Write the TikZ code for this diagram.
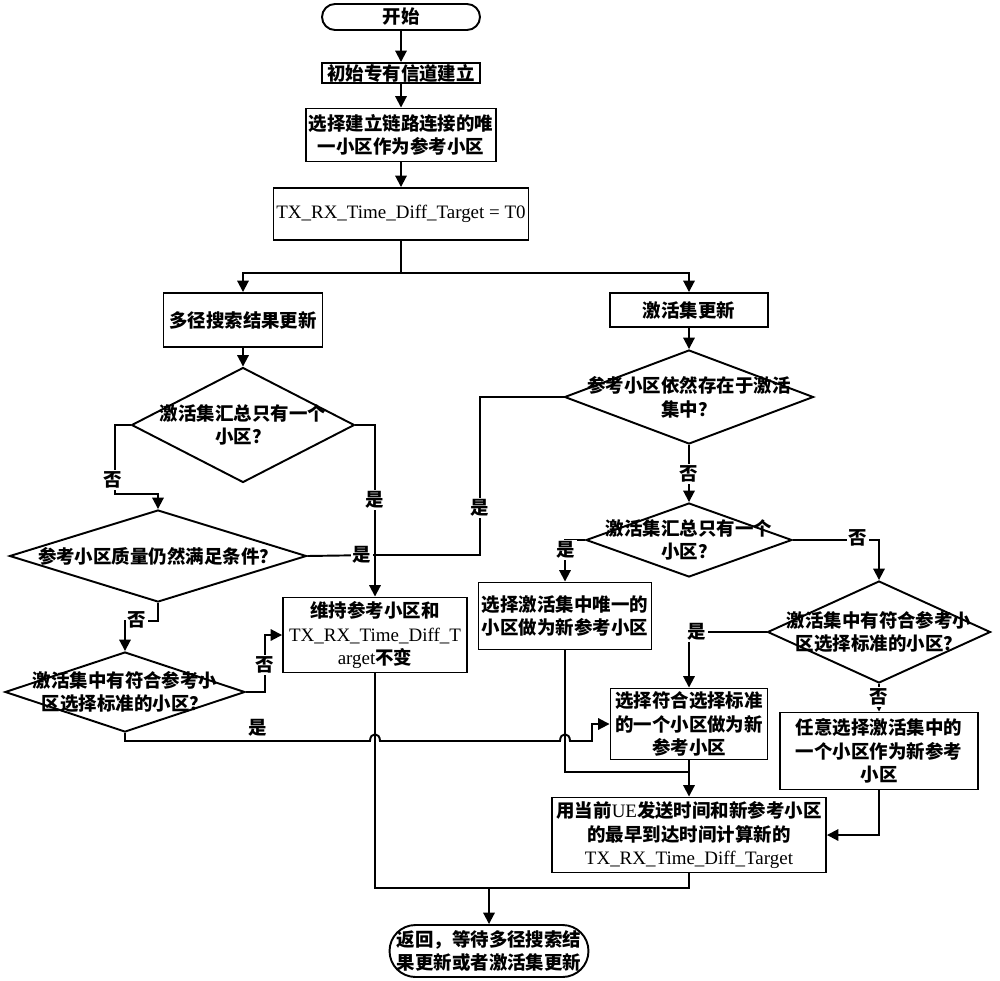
\documentclass[tikz,border=0pt]{standalone}
\usepackage{fontspec}
\setmainfont{Liberation Serif}
\newfontfamily\cjkfont{Noto Sans CJK SC}
\newcommand{\lat}[1]{{\rmfamily\mdseries\fontsize{10.8}{13.5}\selectfont #1}}
\usetikzlibrary{arrows.meta}
\usetikzlibrary{shapes}

\begin{document}
\begin{tikzpicture}[x = 0.02cm, y = -0.02cm, line width = 1.1pt, font = \cjkfont\bfseries\fontsize{10.5}{13.5}\selectfont]
	\tikzstyle{termStyle} = [draw, align = center, inner sep = 0pt]
	\tikzstyle{boxStyle} = [draw, shape = rectangle, align = center, inner sep = 0pt]
	\tikzstyle{decisionStyle} = [draw, shape = diamond, inner sep = 0pt]
	\tikzstyle{answerStyle} = [fill = white, inner sep = 1pt]
	\tikzstyle{flowStyle} = [-{Triangle[length = 6.5pt, width = 6.5pt]}]
	\useasboundingbox (0,0) rectangle (1000,980);
	% main column
	\node[termStyle, rounded corners = 0.26cm, minimum width = 3.16cm, minimum height = 0.52cm] (start) at (401,17) {开始};
	\node[boxStyle, minimum width = 3.16cm, minimum height = 0.40cm] (init) at (401,73) {初始专有信道建立};
	\node[boxStyle, minimum width = 3.80cm, minimum height = 1.06cm] (pick) at (401,135) {选择建立链路连接的唯\\一小区作为参考小区};
	\node[boxStyle, minimum width = 5.10cm, minimum height = 1.04cm] (tzero) at (401,214) {\lat{TX\_RX\_Time\_Diff\_Target = T0}};
	% left branch
	\node[boxStyle, minimum width = 3.18cm, minimum height = 1.08cm] (search) at (243,320) {多径搜索结果更新};
	\node[decisionStyle, minimum width = 4.46cm, minimum height = 2.30cm, label = {[align = center]center:激活集汇总只有一个\\小区？}] (onlyL) at (243,425) {};
	\node[decisionStyle, minimum width = 5.94cm, minimum height = 1.84cm, label = {[align = center]center:参考小区质量仍然满足条件？}] (quality) at (158,556) {};
	\node[decisionStyle, minimum width = 4.80cm, minimum height = 1.60cm, label = {[align = center]center:激活集中有符合参考小\\区选择标准的小区？}] (match) at (125,692) {};
	\node[boxStyle, minimum width = 3.68cm, minimum height = 1.50cm] (keep) at (375,635) {维持参考小区和\\\lat{TX\_RX\_Time\_Diff\_T}\\\lat{arget}不变};
	% right branch
	\node[boxStyle, minimum width = 3.16cm, minimum height = 0.68cm] (update) at (689,310) {激活集更新};
	\node[decisionStyle, minimum width = 4.98cm, minimum height = 1.88cm, label = {[align = center]center:参考小区依然存在于激活\\集中？}] (stillIn) at (689,397) {};
	\node[decisionStyle, minimum width = 4.12cm, minimum height = 1.48cm, label = {[align = center]center:激活集汇总只有一个\\小区？}] (onlyR) at (689,540) {};
	\node[boxStyle, minimum width = 3.46cm, minimum height = 1.34cm] (unique) at (565,616) {选择激活集中唯一的\\小区做为新参考小区};
	\node[decisionStyle, minimum width = 4.46cm, minimum height = 2.04cm, label = {[align = center]center:激活集中有符合参考小\\区选择标准的小区？}] (matchR) at (879,632) {};
	\node[boxStyle, minimum width = 3.14cm, minimum height = 1.42cm] (choose) at (689,724) {选择符合选择标准\\的一个小区做为新\\参考小区};
	\node[boxStyle, minimum width = 3.96cm, minimum height = 1.54cm] (any) at (879,751) {任意选择激活集中的\\一个小区作为新参考\\小区};
	\node[boxStyle, minimum width = 5.48cm, minimum height = 1.50cm] (calc) at (689,835) {用当前\lat{UE}发送时间和新参考小区\\的最早到达时间计算新的\\\lat{TX\_RX\_Time\_Diff\_Target}};
	\node[termStyle, rounded corners = 0.52cm, minimum width = 3.98cm, minimum height = 1.04cm] (finish) at (489,951) {返回，等待多径搜索结\\果更新或者激活集更新};
	% connectors
	\coordinate (split) at (401,273);
	\coordinate (noL) at (115,494);
	\coordinate (noQ) at (158,621);
	\coordinate (noM) at (265,692);
	\coordinate (join) at (375,555);
	\coordinate (yesR) at (480,555);
	\coordinate (yesM) at (125,741);
	\coordinate (stepM) at (592,741);
	\coordinate (merge) at (689,772);
	\coordinate (back) at (489,888);
	\draw[flowStyle] (start) -- (init);
	\draw[flowStyle] (init) -- (pick);
	\draw[flowStyle] (pick) -- (tzero);
	\draw (tzero) -- (split);
	\draw[flowStyle] (split) -| (search);
	\draw[flowStyle] (split) -| (update);
	\draw[flowStyle] (search) -- (onlyL);
	\draw[flowStyle] (update) -- (stillIn);
	\draw[flowStyle] (onlyL.west) -| (noL) -| (quality.north);
	\draw[flowStyle] (onlyL.east) -| (keep.north);
	\draw (quality.east) -- (join);
	\draw (stillIn.west) -| (yesR) -- (join);
	\draw[flowStyle] (quality.south) -- (noQ) -| (match.north);
	\draw[flowStyle] (match.east) -- (noM) |- (keep.west);
	\draw[flowStyle] (match.south) -- (yesM) -- (370,741) .. controls (370,732) and (380,732) .. (380,741) -- (560,741) .. controls (560,732) and (570,732) .. (570,741) -- (stepM) |- (choose.west);
	\draw[flowStyle] (stillIn.south) -- (onlyR.north);
	\draw[flowStyle] (onlyR.west) -| (unique.north);
	\draw[flowStyle] (onlyR.east) -| (matchR.north);
	\draw[flowStyle] (matchR.west) -| (choose.north);
	\draw[flowStyle] (matchR.south) -- (any.north);
	\draw (unique.south) |- (merge);
	\draw[flowStyle] (choose.south) -- (calc.north);
	\draw[flowStyle] (any.south) |- (calc.east);
	\draw (keep.south) |- (back) -| (calc.south);
	\draw[flowStyle] (back) -- (finish.north);
	% answers
	\node[answerStyle] (noOnlyL) at (113,480) {否};
	\node[answerStyle] (yesOnlyL) at (375,500) {是};
	\node[answerStyle] (yesQuality) at (362,555) {是};
	\node[answerStyle] (yesStillIn) at (480,508) {是};
	\node[answerStyle] (noQuality) at (137,620) {否};
	\node[answerStyle] (noMatch) at (265,665) {否};
	\node (yesMatch) at (258,728) {是};
	\node[answerStyle] (noStillIn) at (689,474) {否};
	\node[answerStyle] (yesOnlyR) at (566,550) {是};
	\node[answerStyle] (noOnlyR) at (858,538) {否};
	\node[answerStyle] (yesMatchR) at (697,632) {是};
	\node[answerStyle] (noMatchR) at (879,697) {否};
\end{tikzpicture}
\end{document}
